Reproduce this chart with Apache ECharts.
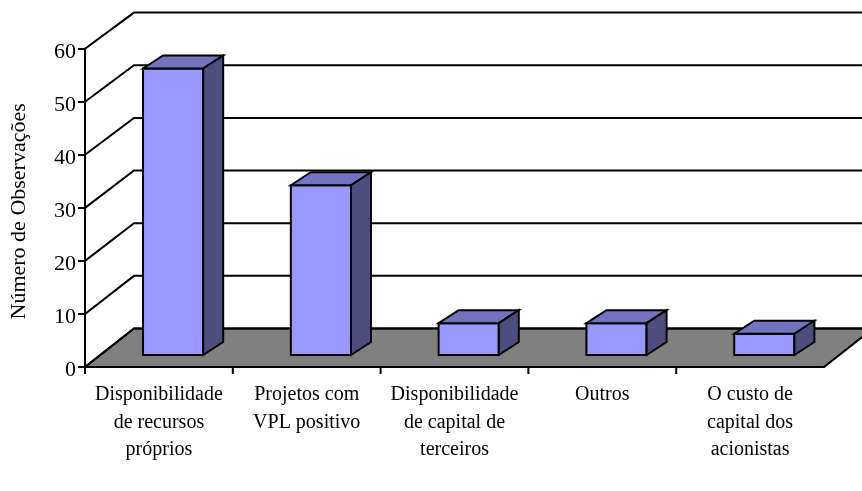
<!DOCTYPE html>
<html lang="pt">

<head>
  <meta charset="UTF-8">
  <title>Número de Observações</title>
  <script src="https://cdn.jsdelivr.net/npm/echarts@6/dist/echarts.min.js"></script>
  <style>
    html, body { margin: 0; padding: 0; background: #fff; }
    #main { width: 862px; height: 491px; }
  </style>
</head>

<body>
  <div id="main"></div>
</body>
<script>
  let categories = [
    'Disponibilidade\nde recursos\npróprios',
    'Projetos com\nVPL positivo',
    'Disponibilidade\nde capital de\nterceiros',
    'Outros',
    'O custo de\ncapital dos\nacionistas'
  ]
  let observacoes = [54, 32, 6, 6, 4]
  let yTicks = [0, 10, 20, 30, 40, 50, 60]

  // profundidade do "3D" em pixels
  let wallDx = 49
  let wallDy = -38.5
  let wallSkew = 0.04
  let barOffsetX = 14.2
  let barOffsetY = -12
  let barDx = 20
  let barDy = -13
  let barRatio = 0.407
  let lineW = 2
  let fontFamily = '"Liberation Serif", serif'

  initChart()

  function poly(points, fill) {
    return {
      type: 'polygon',
      shape: { points: points },
      style: { fill: fill, stroke: '#000', lineWidth: lineW, lineJoin: 'miter' }
    }
  }

  function renderFloor(params, api) {
    let cs = params.coordSys
    let y0 = api.coord([0, 0])[1]
    let x0 = cs.x
    let x1 = cs.x + cs.width
    return poly([
      [x0, y0], [x1, y0], [x1 + wallDx, y0 + wallDy], [x0 + wallDx, y0 + wallDy]
    ], '#808080')
  }

  function renderWall(params, api) {
    let cs = params.coordSys
    let y = api.coord([0, api.value(0)])[1]
    let backX = cs.x + wallDx
    let backY = y + wallDy + api.value(0) * wallSkew
    return {
      type: 'polyline',
      shape: { points: [[cs.x, y], [backX, backY], [cs.x + cs.width + wallDx, backY]] },
      style: { fill: null, stroke: '#000', lineWidth: lineW }
    }
  }

  // o original nao tem marca no fim do eixo, so no inicio de cada categoria
  function renderTick(params, api) {
    let p = api.coord([api.value(0), 0])
    let x = p[0] - api.size([1, 0])[0] / 2
    return {
      type: 'line',
      shape: { x1: x, y1: p[1], x2: x, y2: p[1] + 7 },
      style: { stroke: '#000', lineWidth: lineW }
    }
  }

  function renderBar(params, api) {
    let idx = api.value(0)
    let top = api.coord([idx, api.value(1)])
    let base = api.coord([idx, 0])
    let w = api.size([1, 0])[0] * barRatio
    let x0 = top[0] + barOffsetX - w / 2
    let x1 = x0 + w
    let yTop = top[1] + barOffsetY
    let yBase = base[1] + barOffsetY
    return {
      type: 'group',
      children: [
        poly([[x0, yTop], [x1, yTop], [x1, yBase], [x0, yBase]], '#9999FF'),
        poly([[x0, yTop], [x0 + barDx, yTop + barDy], [x1 + barDx, yTop + barDy], [x1, yTop]], '#7373BF'),
        poly([[x1, yTop], [x1 + barDx, yTop + barDy], [x1 + barDx, yBase + barDy], [x1, yBase]], '#4D4D80')
      ]
    }
  }

  function initChart() {
    let myChart = echarts.init(document.getElementById('main'), null, { renderer: 'canvas' })
    let textStyle = { color: '#000', fontFamily: fontFamily, fontSize: 20 }
    let option = {
      animation: false,
      backgroundColor: '#fff',
      grid: { left: 85, right: 38, top: 48.7, bottom: 124, outerBoundsMode: 'none' },
      xAxis: {
        type: 'category',
        data: categories,
        axisLine: { show: true, lineStyle: { color: '#000', width: lineW } },
        axisTick: { show: false },
        axisLabel: Object.assign({ margin: 14, lineHeight: 27.5, interval: 0 }, textStyle),
        z: 5
      },
      yAxis: {
        type: 'value',
        min: 0,
        max: 60,
        interval: 10,
        name: 'Número de Observações',
        nameLocation: 'middle',
        nameRotate: 90,
        nameGap: 55,
        nameTextStyle: Object.assign({ padding: [0, 7, 0, 0] }, textStyle, { fontSize: 22 }),
        axisLine: { show: true, lineStyle: { color: '#000', width: lineW } },
        axisTick: { show: true, length: 7, lineStyle: { color: '#000', width: lineW } },
        // numeros ficam um pouco abaixo da marca no original
        axisLabel: Object.assign({ margin: 9, verticalAlign: 'top', lineHeight: 7 }, textStyle, { fontSize: 22 }),
        splitLine: { show: false }
      },
      series: [{
        type: 'custom',
        renderItem: renderFloor,
        data: [[0]],
        z: 1,
        silent: true
      }, {
        type: 'custom',
        renderItem: renderWall,
        data: yTicks.map(function (t) { return [t] }),
        encode: { y: 0 },
        z: 2,
        silent: true
      }, {
        type: 'custom',
        renderItem: renderTick,
        data: categories.map(function (c, i) { return [i] }),
        encode: { x: 0 },
        z: 2,
        silent: true
      }, {
        type: 'custom',
        renderItem: renderBar,
        data: observacoes.map(function (v, i) { return [i, v] }),
        encode: { x: 0, y: 1 },
        z: 3
      }]
    }
    myChart.setOption(option)
  }
</script>

</html>
